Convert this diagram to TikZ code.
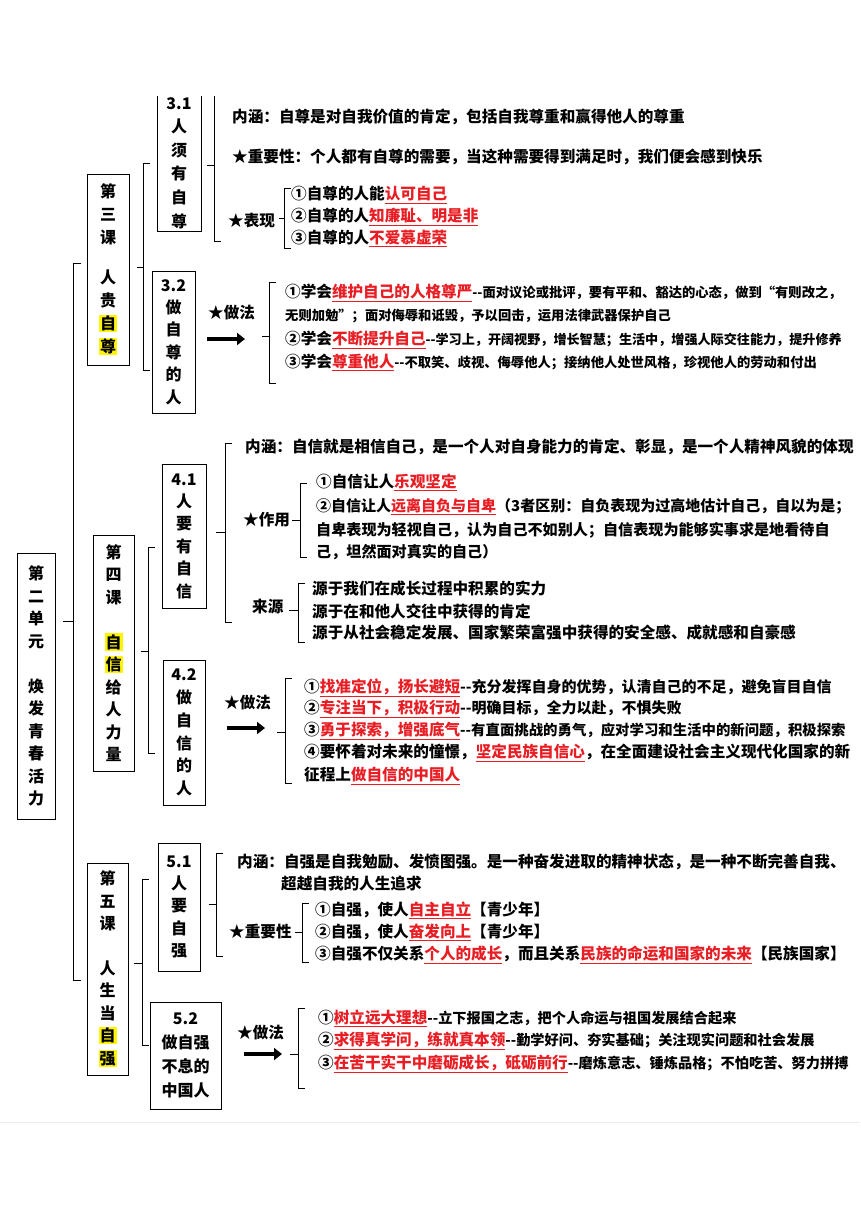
\documentclass[tikz,border=0pt]{standalone}
\usepackage{fontspec}
\setmainfont{Noto Sans CJK SC}
\usepackage{tikz}
\usetikzlibrary{arrows.meta}

\definecolor{keyred}{RGB}{232,30,36}
\definecolor{hlyellow}{RGB}{255,245,0}
\newcommand{\keypt}[1]{\textcolor{keyred}{\underline{#1}}}
\newcommand{\hlt}[1]{{\setlength{\fboxsep}{1pt}\colorbox{hlyellow}{#1}}}
\newcommand{\smalltxt}[2][14.2]{{\fontsize{#1}{16}\selectfont #2}}
\newcommand{\bodyfont}{\fontsize{15.6}{20}\selectfont\bfseries}
\newcommand{\boxfont}{\fontsize{16}{22.5}\selectfont\bfseries}

\begin{document}
\begin{tikzpicture}[
    x=1pt, y=-1pt,
    box/.style={draw, line width=1pt, align=center, inner sep=0pt, font=\boxfont},
    txt/.style={anchor=west, inner sep=0pt, font=\bodyfont},
    brk/.style={line width=1pt},
    arrow/.style={line width=4.5pt, -{Triangle[length=8pt, width=12pt]}}
]
    \fill[white] (0,0) rectangle (860,1216);
    \useasboundingbox (0,0) rectangle (860,1216);
    \draw[black!8, line width=1pt] (0,1122) -- (860,1122);

    % unit
    \node (u) [box, minimum width=38, minimum height=266] at (36,686) {第\\二\\单\\元\\[22.5pt]焕\\发\\青\\春\\活\\力};
    \coordinate (b0) at (73,621);
    \draw[brk] (81,263) -- (73,263) -- (73,980) -- (81,980);
    \draw[brk] ([xshift=7pt]b0 -| u.east) -- (b0);

    % lesson 3
    \node (l3) [box, minimum width=42, minimum height=191, font=\fontsize{16}{23}\selectfont\bfseries] at (108,269.5) {第\\三\\课\\[17pt]人\\贵\\\hlt{自}\\\hlt{尊}};
    \coordinate (b3) at (143,267);
    \draw[brk] (150,163) -- (143,163) -- (143,370) -- (150,370);
    \draw[brk] ([xshift=7pt]b3 -| l3.east) -- (b3);

    \node (s31) [box, draw=none, minimum width=44, font=\fontsize{16}{23.6}\selectfont\bfseries] at (179,163) {3.1\\人\\须\\有\\自\\尊};
    \draw[brk] (157,96) |- (201,231) -- (201,96);
    \coordinate (b31) at (214,165);
    \draw[brk] (214,96) -- (214,241) -- (221,241);
    \draw[brk] ([xshift=5pt]b31 -| s31.east) -- (b31);

    \node (n31) [txt] at (232,117) {内涵：自尊是对自我价值的肯定，包括自我尊重和赢得他人的尊重};
    \node (i31) [txt] at (232,157) {★重要性：个人都有自尊的需要，当这种需要得到满足时，我们便会感到快乐};
    \node (p31) [txt] at (228,221) {★表现};
    \coordinate (bp31) at (284,218);
    \draw[brk] (291,188) -- (284,188) -- (284,248) -- (291,248);
    \draw[brk] ([xshift=4pt]bp31 -| p31.east) -- (bp31);
    \node (p31a) [txt] at (291,195) {①自尊的人能\keypt{认可自己}};
    \node (p31b) [txt] at (291,217) {②自尊的人\keypt{知廉耻、明是非}};
    \node (p31c) [txt] at (291,238) {③自尊的人\keypt{不爱慕虚荣}};

    \node (s32) [box, minimum width=43, minimum height=142, font=\fontsize{16}{22.4}\selectfont\bfseries] at (173.5,342) {3.2\\做\\自\\尊\\的\\人};
    \node (f32) [txt] at (208,313) {★做法};
    \coordinate (a32) at (207,339);
    \coordinate (e32) at (245,339);
    \draw[arrow] (a32) -- (e32);
    \coordinate (bf32) at (269,336);
    \draw[brk] (276,282) -- (269,282) -- (269,383) -- (276,383);
    \draw[brk] ([xshift=-7pt]bf32) -- (bf32);
    \node (f32a) [txt] at (285,293) {①学会\keypt{维护自己的人格尊严}\smalltxt[13.3]{-{}-面对议论或批评，要有平和、豁达的心态，做到“有则改之，}};
    \node (f32b) [txt] at (285,316) {\smalltxt[13.3]{无则加勉”；面对侮辱和诋毁，予以回击，运用法律武器保护自己}};
    \node (f32c) [txt] at (285,340) {②学会\keypt{不断提升自己}\smalltxt[13.1]{-{}-学习上，开阔视野，增长智慧；生活中，增强人际交往能力，提升修养}};
    \node (f32d) [txt] at (285,362) {③学会\keypt{尊重他人}\smalltxt[13.3]{-{}-不取笑、歧视、侮辱他人；接纳他人处世风格，珍视他人的劳动和付出}};

    % lesson 4
    \node (l4) [box, minimum width=41, minimum height=236] at (113.5,653) {第\\四\\课\\[22.5pt]\hlt{自}\\\hlt{信}\\给\\人\\力\\量};
    \coordinate (b4) at (148,651);
    \draw[brk] (155,547) -- (148,547) -- (148,753) -- (155,753);
    \draw[brk] ([xshift=6pt]b4 -| l4.east) -- (b4);

    \node (s41) [box, minimum width=44, minimum height=144, font=\fontsize{16}{22.4}\selectfont\bfseries] at (184,536) {4.1\\人\\要\\有\\自\\信};
    \coordinate (b41) at (225,532);
    \draw[brk] (232,443) -- (225,443) -- (225,622) -- (232,622);
    \draw[brk] ([xshift=9pt]b41 -| s41.east) -- (b41);

    \node (n41) [txt] at (245,447) {内涵：自信就是相信自己，是一个人对自身能力的肯定、彰显，是一个人精神风貌的体现};
    \node (r41) [txt] at (243,520) {★作用};
    \coordinate (br41) at (300,520);
    \draw[brk] (307,483) -- (300,483) -- (300,557) -- (307,557);
    \draw[brk] ([xshift=2pt]br41 -| r41.east) -- (br41);
    \node (r41a) [txt] at (316,482) {①自信让人\keypt{乐观坚定}};
    \node (r41b) [txt, font=\fontsize{15}{20}\selectfont\bfseries] at (316,507) {②自信让人\keypt{远离自负与自卑}（3者区别：自负表现为过高地估计自己，自以为是；};
    \node (r41c) [txt, font=\fontsize{15.1}{20}\selectfont\bfseries] at (316,530) {自卑表现为轻视自己，认为自己不如别人；自信表现为能够实事求是地看待自};
    \node (r41d) [txt, font=\fontsize{15.1}{20}\selectfont\bfseries] at (316,552) {己，坦然面对真实的自己）};
    \node (o41) [txt] at (252,607) {来源};
    \coordinate (bo41) at (298,610);
    \draw[brk] (305,583) -- (298,583) -- (298,642) -- (305,642);
    \draw[brk] ([xshift=5pt]bo41 -| o41.east) -- (bo41);
    \node (o41a) [txt] at (312,589) {源于我们在成长过程中积累的实力};
    \node (o41b) [txt] at (312,611) {源于在和他人交往中获得的肯定};
    \node (o41c) [txt] at (312,633) {源于从社会稳定发展、国家繁荣富强中获得的安全感、成就感和自豪感};

    \node (s42) [box, minimum width=42, minimum height=145, font=\fontsize{16}{22.8}\selectfont\bfseries] at (184,732.5) {4.2\\做\\自\\信\\的\\人};
    \node (f42) [txt] at (224,703) {★做法};
    \coordinate (a42) at (227,728);
    \coordinate (e42) at (265,728);
    \draw[arrow] (a42) -- (e42);
    \coordinate (bf42) at (285,732);
    \draw[brk] (292,678) -- (285,678) -- (285,783) -- (292,783);
    \draw[brk] ([xshift=-8pt]bf42) -- (bf42);
    \node (f42a) [txt] at (304,688) {①\keypt{找准定位，扬长避短}\smalltxt[15]{-{}-充分发挥自身的优势，认清自己的不足，避免盲目自信}};
    \node (f42b) [txt] at (304,709) {②\keypt{专注当下，积极行动}\smalltxt[15]{-{}-明确目标，全力以赴，不惧失败}};
    \node (f42c) [txt] at (304,731) {③\keypt{勇于探索，增强底气}\smalltxt[14.4]{-{}-有直面挑战的勇气，应对学习和生活中的新问题，积极探索}};
    \node (f42d) [txt] at (304,753) {④要怀着对未来的憧憬，\keypt{坚定民族自信心}，在全面建设社会主义现代化国家的新};
    \node (f42e) [txt] at (304,776) {征程上\keypt{做自信的中国人}};

    % lesson 5
    \node (l5) [box, minimum width=41, minimum height=212] at (107.5,969) {第\\五\\课\\[22pt]人\\生\\当\\\hlt{自}\\\hlt{强}};
    \coordinate (b5) at (142,963);
    \draw[brk] (149,879) -- (142,879) -- (142,1045) -- (149,1045);
    \draw[brk] ([xshift=5pt]b5 -| l5.east) -- (b5);

    \node (s51) [box, minimum width=42, minimum height=128, font=\fontsize{16}{22.3}\selectfont\bfseries] at (179,907) {5.1\\人\\要\\自\\强};
    \coordinate (b51) at (216,904);
    \draw[brk] (223,853) -- (216,853) -- (216,956) -- (223,956);
    \draw[brk] ([xshift=8pt]b51 -| s51.east) -- (b51);
    \node (n51) [txt] at (237,862) {内涵：自强是自我勉励、发愤图强。是一种奋发进取的精神状态，是一种不断完善自我、};
    \node (n51b) [txt] at (281,884) {超越自我的人生追求};
    \node (i51) [txt] at (229,932) {★重要性};
    \coordinate (bi51) at (302,932);
    \draw[brk] (309,903) -- (302,903) -- (302,962) -- (309,962);
    \draw[brk] ([xshift=3pt]bi51 -| i51.east) -- (bi51);
    \node (i51a) [txt] at (315,910) {①自强，使人\keypt{自主自立}【青少年】};
    \node (i51b) [txt] at (315,932) {②自强，使人\keypt{奋发向上}【青少年】};
    \node (i51c) [txt] at (315,955) {③自强不仅关系\keypt{个人的成长}，而且关系\keypt{民族的命运和国家的未来}【民族国家】};

    \node (s52) [box, minimum width=71, minimum height=107, font=\fontsize{16}{24}\selectfont\bfseries] at (185.5,1055.5) {5.2\\做自强\\不息的\\中国人};
    \node (f52) [txt] at (237,1033) {★做法};
    \coordinate (a52) at (244,1054);
    \coordinate (e52) at (282,1054);
    \draw[arrow] (a52) -- (e52);
    \coordinate (bf52) at (298,1054);
    \draw[brk] (305,1008) -- (298,1008) -- (298,1088) -- (305,1088);
    \draw[brk] ([xshift=-8pt]bf52) -- (bf52);
    \node (f52a) [txt] at (318,1018) {①\keypt{树立远大理想}\smalltxt{-{}-立下报国之志，把个人命运与祖国发展结合起来}};
    \node (f52b) [txt] at (318,1041) {②\keypt{求得真学问，练就真本领}\smalltxt{-{}-勤学好问、夯实基础；关注现实问题和社会发展}};
    \node (f52c) [txt] at (318,1064) {③\keypt{在苦干实干中磨砺成长，砥砺前行}\smalltxt{-{}-磨炼意志、锤炼品格；不怕吃苦、努力拼搏}};
\end{tikzpicture}
\end{document}
